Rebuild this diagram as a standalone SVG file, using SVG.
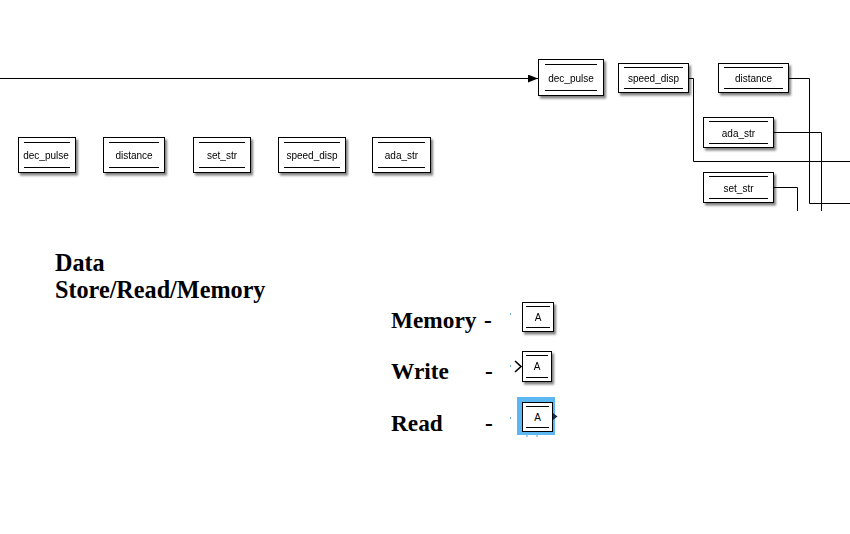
<svg xmlns="http://www.w3.org/2000/svg" width="850" height="534" viewBox="0 0 850 534">
<defs>
<filter id="sh" x="-20%" y="-20%" width="150%" height="160%">
<feDropShadow dx="2" dy="2.5" stdDeviation="1.2" flood-color="#000" flood-opacity="0.5"/>
</filter>
<marker id="arr" markerWidth="10" markerHeight="8" refX="10" refY="4" orient="auto" markerUnits="userSpaceOnUse">
<path d="M0,0 L10,4 L0,8 Z" fill="#000"/>
</marker>
</defs>
<style>
.box{fill:#fff;stroke:#000;stroke-width:1}
.in{stroke:#000;stroke-width:1}
.lbl{font-family:"Liberation Sans",Arial,sans-serif;font-size:10px;fill:#000;text-anchor:middle;dominant-baseline:central}
.big{font-family:"Liberation Serif","Times New Roman",serif;font-size:23.3px;font-weight:bold;fill:#000}
.ttl{font-family:"Liberation Serif","Times New Roman",serif;font-size:24.2px;font-weight:bold;fill:#000}
.wire{fill:none;stroke:#000;stroke-width:1}
.dot{fill:#6ab8ee}
</style>
<rect width="850" height="534" fill="#fff"/>

<g id="connectors">
<path class="wire" d="M0,78.5 H538" marker-end="url(#arr)"/>
<path class="wire" d="M688,78.5 H693.5 V161.5 H850"/>
<path class="wire" d="M788,78.5 H809.5 V203.5 H850"/>
<path class="wire" d="M773,132.5 H821.5 V211"/>
<path class="wire" d="M773,187.5 H797.5 V211"/>
</g>

<g id="dec_pulse_top" filter="url(#sh)">
<rect class="box" x="538.5" y="59.5" width="65" height="36"/>
<path class="in" d="M545,64.5 H597 M545,90.5 H597"/>
<text class="lbl" x="571" y="78">dec_pulse</text>
</g>
<g id="speed_disp_top" filter="url(#sh)">
<rect class="box" x="618.5" y="63.5" width="70" height="29"/>
<path class="in" d="M624,67.5 H683 M624,88.5 H683"/>
<text class="lbl" x="653.5" y="78">speed_disp</text>
</g>
<g id="distance_top" filter="url(#sh)">
<rect class="box" x="718.5" y="63.5" width="70" height="29"/>
<path class="in" d="M724,67.5 H783 M724,88.5 H783"/>
<text class="lbl" x="753.5" y="78">distance</text>
</g>
<g id="ada_str_top" filter="url(#sh)">
<rect class="box" x="703.5" y="117.5" width="70" height="30"/>
<path class="in" d="M709,121.5 H768 M709,143.5 H768"/>
<text class="lbl" x="738.5" y="133">ada_str</text>
</g>
<g id="set_str_top" filter="url(#sh)">
<rect class="box" x="703.5" y="172.5" width="70" height="30"/>
<path class="in" d="M709,176.5 H768 M709,198.5 H768"/>
<text class="lbl" x="738.5" y="188">set_str</text>
</g>

<g id="dec_pulse" filter="url(#sh)">
<rect class="box" x="18.5" y="137.5" width="57" height="35"/>
<path class="in" d="M24,142.5 H70 M24,167.5 H70"/>
<text class="lbl" x="46" y="155.5">dec_pulse</text>
</g>
<g id="distance" filter="url(#sh)">
<rect class="box" x="103.5" y="137.5" width="61" height="35"/>
<path class="in" d="M109,142.5 H159 M109,167.5 H159"/>
<text class="lbl" x="134" y="155.5">distance</text>
</g>
<g id="set_str" filter="url(#sh)">
<rect class="box" x="193.5" y="137.5" width="57" height="35"/>
<path class="in" d="M199,142.5 H245 M199,167.5 H245"/>
<text class="lbl" x="222" y="155.5">set_str</text>
</g>
<g id="speed_disp" filter="url(#sh)">
<rect class="box" x="278.5" y="137.5" width="67" height="35"/>
<path class="in" d="M284,142.5 H340 M284,167.5 H340"/>
<text class="lbl" x="312" y="155.5">speed_disp</text>
</g>
<g id="ada_str" filter="url(#sh)">
<rect class="box" x="372.5" y="137.5" width="58" height="35"/>
<path class="in" d="M378,142.5 H425 M378,167.5 H425"/>
<text class="lbl" x="401.5" y="155.5">ada_str</text>
</g>

<g id="title">
<text class="ttl" x="55" y="271">Data</text>
<text class="ttl" x="55" y="298">Store/Read/Memory</text>
</g>

<g id="legend-text">
<text class="big" x="391" y="328">Memory</text>
<text class="big" x="484" y="328">-</text>
<text class="big" x="391" y="379">Write</text>
<text class="big" x="485" y="379">-</text>
<text class="big" x="391" y="431">Read</text>
<text class="big" x="485" y="431">-</text>
</g>

<g id="memory_block">
<rect class="dot" x="510" y="313" width="1" height="2"/>
<g filter="url(#sh)">
<rect class="box" x="522.5" y="302.5" width="31" height="29"/>
<path class="in" d="M526,306.5 H550 M526,327.5 H550"/>
<text class="lbl" x="538" y="317">A</text>
</g>
</g>
<g id="write_block">
<rect class="dot" x="510" y="365" width="1" height="2"/>
<path d="M515,361 L521,366.5 L515,372" fill="none" stroke="#000" stroke-width="1.6"/>
<g filter="url(#sh)">
<rect class="box" x="522.5" y="351.5" width="29" height="30"/>
<path class="in" d="M526,355.5 H548 M526,377.5 H548"/>
<text class="lbl" x="537" y="366.5">A</text>
</g>
</g>
<g id="read_block">
<rect class="dot" x="510" y="417" width="1" height="2"/>
<rect x="517" y="397" width="38" height="38" fill="#5cb7f2"/>
<rect x="526" y="435" width="2" height="2" fill="#a9d6f6"/>
<rect x="536" y="435" width="2" height="2" fill="#a9d6f6"/>
<rect class="box" x="522.5" y="402.5" width="30" height="29"/>
<path class="in" d="M526,406.5 H549 M526,427.5 H549"/>
<text class="lbl" x="537.5" y="417">A</text>
<path d="M553,413 L557.5,416.5 L553,420 Z" fill="#1a2a4a"/>
</g>
</svg>
